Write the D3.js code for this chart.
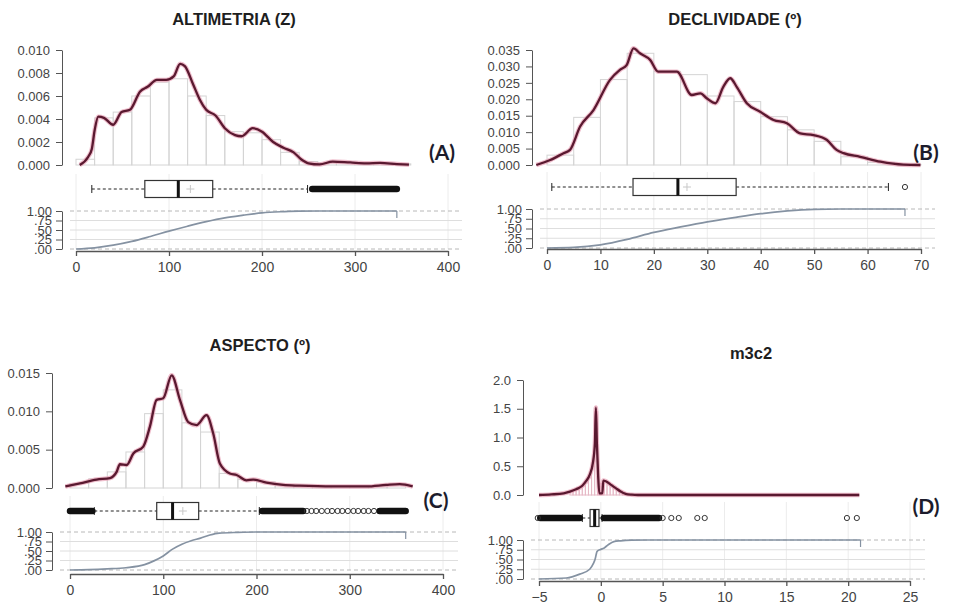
<!DOCTYPE html>
<html>
<head>
<meta charset="utf-8">
<script src="https://cdn.jsdelivr.net/npm/d3@7"></script>
<style>
body { margin: 0; background: #fff; }
svg text { font-family: "Liberation Sans", Arial, sans-serif; }
</style>
</head>
<body>
<script>

/******** Data *****************************/

// (A) altimetria
var altiBreaks = [0,20,40,60,80,100,120,140,160,180,200,220,240,260,280,300,320,340,360]
var altiHist = [0.0005,0.0041,0.0046,0.006,0.0072,0.0075,0.006,0.0043,0.0029,0.0028,0.0022,0.0011,0.0003,0.0002,0.0002,0.0002,0.0002,0.0001]
var altiDensity = [[4,0],[13,0.0007],[17,0.0014],[20,0.003],[24,0.0042],[30,0.0041],[40,0.0035],[49,0.0046],[58,0.0048],[69,0.0064],[77,0.0068],[87,0.0074],[97,0.0074],[105,0.0077],[112,0.0088],[117,0.0086],[126,0.007],[133,0.0057],[140,0.0048],[150,0.0043],[160,0.0032],[171,0.0026],[178,0.0025],[190,0.0032],[200,0.0029],[212,0.002],[223,0.0015],[234,0.0011],[242,0.0005],[250,0.00015],[262,0.00005],[276,0.0003],[295,0.00022],[312,0.00015],[327,0.00018],[345,0.00008],[358,0.00003]]
var altiBox = [17, 74, 110, 147, 249]
var altiMean = 123
var altiOutBands = [[254, 345]]
var altiOutliers = []
var altiEcdf = [[0,0],[20,0.03],[40,0.1],[60,0.2],[80,0.33],[100,0.47],[120,0.6],[140,0.72],[160,0.82],[180,0.89],[200,0.95],[220,0.98],[240,0.995],[260,1],[345,1]]
var altiXTicks = [0,100,200,300,400]
var altiYTicks = [0,0.002,0.004,0.006,0.008,0.010]
var altiYLabels = ["0.000","0.002","0.004","0.006","0.008","0.010"]

// (B) declividade
var decliBreaks = [0,5,10,15,20,25,30,35,40,45,50,55,60,65,70]
var decliHist = [0.003,0.0145,0.026,0.034,0.0285,0.0275,0.021,0.0193,0.0147,0.0107,0.0072,0.0025,0.0008,0.0002]
var decliDensity = [[-2,0],[0.6,0.0015],[3.1,0.0036],[4.3,0.0046],[6.2,0.0117],[8.7,0.0167],[11.8,0.0259],[13.7,0.029],[14.9,0.0304],[16.2,0.0355],[17.4,0.034],[19.3,0.032],[20.8,0.0284],[24.3,0.0284],[27.1,0.0213],[28.7,0.0218],[29.9,0.0203],[31.5,0.0188],[33,0.0238],[34.3,0.0264],[35.5,0.0238],[37.4,0.0188],[39.9,0.0162],[42.4,0.0137],[44.9,0.0127],[47.4,0.0096],[49.9,0.0091],[52.4,0.0076],[54.2,0.0046],[55.5,0.0036],[58.6,0.0025],[62.4,0.001],[66.7,0.0001],[69.9,0]]
var decliBox = [0.9, 16.1, 24.5, 35.4, 63.9]
var decliMean = 26.2
var decliOutBands = []
var decliOutliers = [67]
var decliEcdf = [[0,0],[5,0.015],[10,0.08],[15,0.22],[20,0.4],[25,0.54],[30,0.67],[35,0.78],[40,0.88],[45,0.95],[50,0.99],[55,1],[67,1]]
var decliXTicks = [0,10,20,30,40,50,60,70]
var decliYTicks = [0,0.005,0.010,0.015,0.020,0.025,0.030,0.035]
var decliYLabels = ["0.000","0.005","0.010","0.015","0.020","0.025","0.030","0.035"]

// (C) aspecto
var aspBreaks = [0,20,40,60,80,100,120,140,160,180,200,220,240,260,280,300,320,340,360]
var aspHist = [0.0006,0.0012,0.0021,0.0047,0.0097,0.0128,0.0085,0.0073,0.0019,0.0011,0.0008,0.0004,0.0003,0.0002,0.0002,0.0002,0.0002,0.0004]
var aspDensity = [[-5,0.0002],[10.7,0.0006],[28.6,0.0011],[42.9,0.0013],[50,0.0021],[53.6,0.0031],[60.8,0.003],[67.9,0.0045],[78.6,0.0054],[85.7,0.008],[92.9,0.0115],[100,0.0117],[109,0.0147],[117.9,0.0115],[126.8,0.0086],[135.7,0.0082],[146.4,0.0095],[153.6,0.0071],[160.7,0.0032],[171.4,0.0019],[178.6,0.0017],[189.3,0.001],[196.4,0.0011],[210.7,0.0007],[228.6,0.0004],[246,0.0003],[282,0.0002],[318,0.0002],[339,0.0004],[353.6,0.0005],[367.5,0.0002]]
var aspBox = [26, 93, 110, 138, 203]
var aspMean = 121
var aspOutBands = [[0, 24], [206, 250], [332, 360]]
var aspOutliers = [254,259,264,270,276,281,287,292,298,304,309,315,320,326]
var aspEcdf = [[0,0],[20,0.01],[40,0.03],[60,0.06],[80,0.14],[90,0.24],[100,0.37],[110,0.55],[120,0.68],[130,0.77],[140,0.84],[150,0.92],[160,0.97],[180,0.99],[200,1],[360,1]]
var aspXTicks = [0,100,200,300,400]
var aspYTicks = [0,0.005,0.010,0.015]
var aspYLabels = ["0.000","0.005","0.010","0.015"]

// (D) m3c2
var m3c2Breaks = [-2.5,-2.25,-2,-1.75,-1.5,-1.25,-1,-0.75,-0.5,-0.25,0,0.25,0.5,0.75,1,1.25,1.5,1.75,2,2.25,2.5]
var m3c2Hist = [0.06,0.08,0.1,0.13,0.16,0.21,0.3,0.5,1.45,0.15,0.2,0.24,0.22,0.18,0.14,0.1,0.07,0.04,0.02,0.01]
var m3c2Density = [[-5,0],[-4,0.01],[-3,0.03],[-2.5,0.06],[-2,0.1],[-1.5,0.16],[-1.2,0.24],[-0.9,0.35],[-0.65,0.55],[-0.48,0.9],[-0.4,1.52],[-0.32,0.9],[-0.22,0.35],[-0.12,0.03],[0.12,0.03],[0.2,0.25],[0.4,0.24],[0.8,0.18],[1.2,0.12],[1.6,0.06],[2,0.02],[2.5,0.005],[3,0],[20.9,0]]
var m3c2Box = [-1.5, -0.87, -0.5, -0.15, 0.1]
var m3c2Mean = null
var m3c2OutBands = [[-4.9, -1.7], [0.25, 4.7]]
var m3c2Outliers = [-5.1, 5.0, 5.7, 6.3, 7.8, 8.4, 19.9, 20.7]
var m3c2Ecdf = [[-5,0],[-2.8,0.025],[-1.7,0.125],[-0.9,0.25],[-0.6,0.4],[-0.47,0.5],[-0.3,0.71],[0,0.76],[0.24,0.79],[0.6,0.88],[1.05,0.96],[1.6,0.98],[2.5,0.995],[3.8,1],[21,1]]
var m3c2XTicks = [-5,0,5,10,15,20,25]
var m3c2YTicks = [0,0.5,1.0,1.5,2.0]
var m3c2YLabels = ["0.0","0.5","1.0","1.5","2.0"]

var ecdfTicks = [0,0.25,0.5,0.75,1]
var ecdfLabels = [".00",".25",".50",".75","1.00"]

/******** Panel layout *********/

var panels = [
  { title: "ALTIMETRIA (Z)", tag: "(A)", titleX: 234, titleY: 25, tagX: 442, tagY: 160,
    axisX: 62, xDomain: [0,400], xRange: [76,448], densY: [165,50], boxY: 189,
    ecdfY: [249,211], xAxisY: 251, gridTop: 174, gridRight: 462,
    breaks: altiBreaks, hist: altiHist, density: altiDensity, box: altiBox, mean: altiMean,
    bands: altiOutBands, outliers: altiOutliers, ecdf: altiEcdf,
    xTicks: altiXTicks, yTicks: altiYTicks, yLabels: altiYLabels, yMax: 0.010, histColor: "#d4d4d4" },
  { title: "DECLIVIDADE (º)", tag: "(B)", titleX: 735, titleY: 25, tagX: 926, tagY: 160,
    axisX: 532, xDomain: [0,70], xRange: [547,921], densY: [165,50], boxY: 187,
    ecdfY: [248,209], xAxisY: 249, gridTop: 172, gridRight: 935,
    breaks: decliBreaks, hist: decliHist, density: decliDensity, box: decliBox, mean: decliMean,
    bands: decliOutBands, outliers: decliOutliers, ecdf: decliEcdf,
    xTicks: decliXTicks, yTicks: decliYTicks, yLabels: decliYLabels, yMax: 0.035, histColor: "#d4d4d4" },
  { title: "ASPECTO (º)", tag: "(C)", titleX: 260, titleY: 351, tagX: 436, tagY: 508,
    axisX: 52, xDomain: [0,400], xRange: [70,443], densY: [488,373], boxY: 511,
    ecdfY: [570,532], xAxisY: 574, gridTop: 496, gridRight: 458,
    breaks: aspBreaks, hist: aspHist, density: aspDensity, box: aspBox, mean: aspMean,
    bands: aspOutBands, outliers: aspOutliers, ecdf: aspEcdf,
    xTicks: aspXTicks, yTicks: aspYTicks, yLabels: aspYLabels, yMax: 0.015, histColor: "#d4d4d4" },
  { title: "m3c2", tag: "(D)", titleX: 751, titleY: 359, tagX: 926, tagY: 514,
    axisX: 523, xDomain: [-5,25], xRange: [539,910], densY: [495,380], boxY: 518,
    ecdfY: [579,540], xAxisY: 581, gridTop: 502, gridRight: 925,
    breaks: m3c2Breaks, hist: m3c2Hist, density: m3c2Density, box: m3c2Box, mean: m3c2Mean,
    bands: m3c2OutBands, outliers: m3c2Outliers, ecdf: m3c2Ecdf,
    xTicks: m3c2XTicks, yTicks: m3c2YTicks, yLabels: m3c2YLabels, yMax: 2.0, histColor: "#e6b9c6" }
]

var svg = d3.select("body")
  .append("svg")
    .attr("width", 954)
    .attr("height", 613)

/******** Draw one panel *********/

function drawPanel(p){
  var g = svg.append("g")

  var x = d3.scaleLinear().domain(p.xDomain).range(p.xRange)
  var y = d3.scaleLinear().domain([0, p.yMax]).range(p.densY)
  var ey = d3.scaleLinear().domain([0, 1]).range(p.ecdfY)

  // title + tag
  g.append("text")
    .attr("x", p.titleX).attr("y", p.titleY)
    .attr("text-anchor", "middle")
    .attr("font-size", "16.5px").attr("font-weight", "bold")
    .attr("fill", "#1e1e1e")
    .text(p.title)

  g.append("text")
    .attr("x", p.tagX).attr("y", p.tagY)
    .attr("text-anchor", "middle")
    .attr("font-size", "21px").attr("font-weight", "bold")
    .style("font-family", "Lato, 'Open Sans', sans-serif")
    .attr("fill", "#1c1c2c")
    .text(p.tag)

  // vertical grid through box + ecdf strip
  g.selectAll("line.vgrid")
    .data(p.xTicks)
    .enter()
    .append("line")
      .attr("x1", function(d){ return x(d) })
      .attr("x2", function(d){ return x(d) })
      .attr("y1", p.gridTop).attr("y2", p.ecdfY[0])
      .attr("stroke", "#ececec")
      .attr("stroke-width", 1)

  // ecdf horizontal grid
  g.selectAll("line.hgrid")
    .data(ecdfTicks)
    .enter()
    .append("line")
      .attr("x1", p.axisX + 8).attr("x2", p.gridRight)
      .attr("y1", function(d){ return ey(d) })
      .attr("y2", function(d){ return ey(d) })
      .attr("stroke", function(d){ return (d == 0 || d == 1) ? "#b8b8b8" : "#dedede" })
      .attr("stroke-dasharray", function(d){ return (d == 0 || d == 1) ? "4,3" : null })
      .attr("stroke-width", 1)

  // histogram
  var bins = p.hist.map(function(h, i){ return { x0: p.breaks[i], x1: p.breaks[i+1], h: h } })
  g.selectAll("rect.bar")
    .data(bins)
    .enter()
    .append("rect")
      .attr("x", function(d){ return x(d.x0) })
      .attr("width", function(d){ return x(d.x1) - x(d.x0) })
      .attr("y", function(d){ return y(d.h) })
      .attr("height", function(d){ return y(0) - y(d.h) })
      .attr("fill", "none")
      .attr("stroke", p.histColor)
      .attr("stroke-width", 1)

  // density
  var line = d3.line()
    .x(function(d){ return x(d[0]) })
    .y(function(d){ return y(d[1]) })
    .curve(d3.curveMonotoneX)

  g.append("path")
    .attr("d", line(p.density))
    .attr("fill", "none")
    .attr("stroke", "#e8a3b6")
    .attr("stroke-width", 4.5)
    .attr("stroke-opacity", 0.7)

  g.append("path")
    .attr("d", line(p.density))
    .attr("fill", "none")
    .attr("stroke", "#5a1930")
    .attr("stroke-width", 2.3)

  // density y axis
  var yAxis = d3.axisLeft(y)
    .tickValues(p.yTicks)
    .tickFormat(function(d, i){ return p.yLabels[i] })
    .tickSize(6).tickSizeOuter(0).tickPadding(6)

  var ya = g.append("g")
    .attr("transform", "translate(" + p.axisX + ",0)")
    .call(yAxis)
  ya.selectAll("path, line").attr("stroke", "#555")
  ya.selectAll("text").attr("font-size", "13px").attr("fill", "#444")
    .style("font-family", "'Liberation Sans', Arial, sans-serif")

  // boxplot
  var b = p.box, bh = 8.5
  var by = p.boxY
  g.append("line")
    .attr("x1", x(b[0])).attr("x2", x(b[1]))
    .attr("y1", by).attr("y2", by)
    .attr("stroke", "#222").attr("stroke-dasharray", "3,2.5")
  g.append("line")
    .attr("x1", x(b[3])).attr("x2", x(b[4]))
    .attr("y1", by).attr("y2", by)
    .attr("stroke", "#222").attr("stroke-dasharray", "3,2.5")
  g.selectAll("line.cap")
    .data([b[0], b[4]])
    .enter()
    .append("line")
      .attr("x1", function(d){ return x(d) })
      .attr("x2", function(d){ return x(d) })
      .attr("y1", by - 4).attr("y2", by + 4)
      .attr("stroke", "#222")
  g.append("rect")
    .attr("x", x(b[1])).attr("width", x(b[3]) - x(b[1]))
    .attr("y", by - bh).attr("height", bh * 2)
    .attr("fill", "#fff").attr("stroke", "#333").attr("stroke-width", 1.2)
  g.append("line")
    .attr("x1", x(b[2])).attr("x2", x(b[2]))
    .attr("y1", by - bh).attr("y2", by + bh)
    .attr("stroke", "#111").attr("stroke-width", 3)
  if (p.mean != null) {
    g.append("path")
      .attr("d", "M" + (x(p.mean) - 4) + "," + by + "h8M" + x(p.mean) + "," + (by - 4) + "v8")
      .attr("stroke", "#c8c8c8").attr("fill", "none")
  }

  // outliers: dense runs drawn as a band, loose ones as circles
  g.selectAll("line.band")
    .data(p.bands)
    .enter()
    .append("line")
      .attr("x1", function(d){ return x(d[0]) })
      .attr("x2", function(d){ return x(d[1]) })
      .attr("y1", by).attr("y2", by)
      .attr("stroke", "#111")
      .attr("stroke-width", 6.5)
      .attr("stroke-linecap", "round")
  g.selectAll("circle.out")
    .data(p.outliers)
    .enter()
    .append("circle")
      .attr("cx", function(d){ return x(d) })
      .attr("cy", by)
      .attr("r", 2.6)
      .attr("fill", "none")
      .attr("stroke", "#333")

  // ecdf
  var eline = d3.line()
    .x(function(d){ return x(d[0]) })
    .y(function(d){ return ey(d[1]) })
    .curve(d3.curveMonotoneX)
  g.append("path")
    .attr("d", eline(p.ecdf))
    .attr("fill", "none")
    .attr("stroke", "#8592a2")
    .attr("stroke-width", 1.7)
  var last = p.ecdf[p.ecdf.length - 1]
  g.append("line")
    .attr("x1", x(last[0])).attr("x2", x(last[0]))
    .attr("y1", ey(1)).attr("y2", ey(1) + 7)
    .attr("stroke", "#8592a2").attr("stroke-width", 1.2)

  var eAxis = d3.axisLeft(ey)
    .tickValues(ecdfTicks)
    .tickFormat(function(d, i){ return ecdfLabels[i] })
    .tickSize(6).tickSizeOuter(0).tickPadding(4)
  var ea = g.append("g")
    .attr("transform", "translate(" + p.axisX + ",0)")
    .call(eAxis)
  ea.selectAll("path, line").attr("stroke", "#555")
  ea.selectAll("text").attr("font-size", "13px").attr("fill", "#444")
    .style("font-family", "'Liberation Sans', Arial, sans-serif")

  // shared x axis
  var xAxis = d3.axisBottom(x)
    .tickValues(p.xTicks)
    .tickSize(5).tickSizeOuter(0).tickPadding(6)
  var xa = g.append("g")
    .attr("transform", "translate(0," + p.xAxisY + ")")
    .call(xAxis)
  xa.selectAll("path, line").attr("stroke", "#555").attr("stroke-width", 1.3)
  xa.selectAll("text").attr("font-size", "14px").attr("fill", "#444")
    .style("font-family", "'Liberation Sans', Arial, sans-serif")
}

panels.forEach(drawPanel)

</script>
</body>
</html>
